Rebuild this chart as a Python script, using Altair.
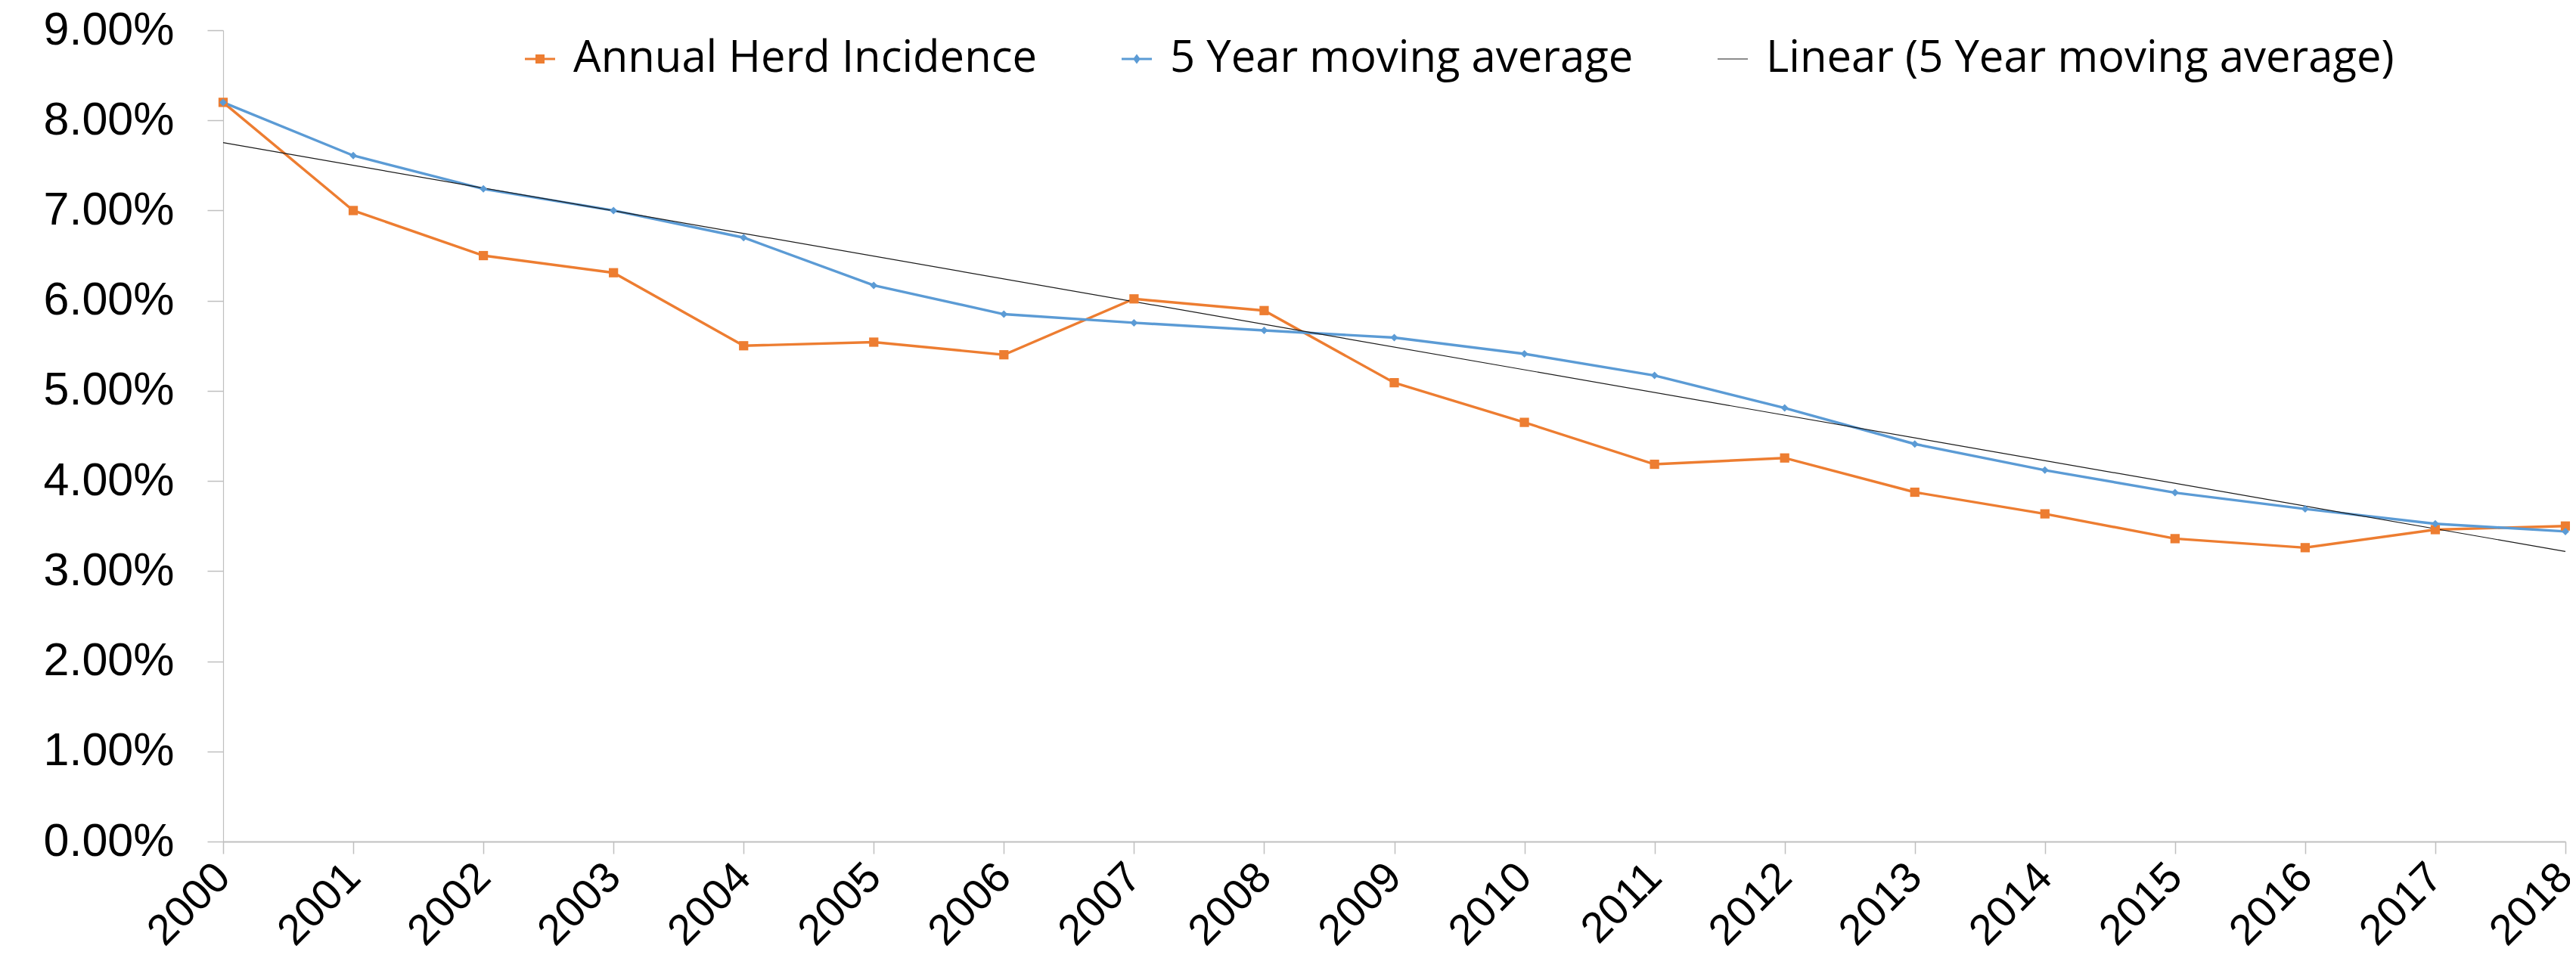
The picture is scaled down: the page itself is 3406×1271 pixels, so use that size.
import altair as alt
import pandas as pd

years = list(range(2000, 2019))
annual_pct = [8.20, 7.00, 6.50, 6.31, 5.50, 5.54, 5.40, 6.02, 5.89, 5.09, 4.65, 4.185,
              4.255, 3.875, 3.635, 3.36, 3.26, 3.46, 3.50]
moving_pct = [8.20, 7.61, 7.24, 7.00, 6.70, 6.17, 5.85, 5.755, 5.67, 5.59, 5.41, 5.17,
              4.81, 4.41, 4.12, 3.87, 3.69, 3.525, 3.44]
series_names = ["Annual Herd Incidence", "5 Year moving average", "Linear (5 Year moving average)"]
series_colors = ["#ED7D31", "#5B9BD5", "#1A1A1A"]
legend_shapes = [
    "M-1,-0.08L1,-0.08L1,0.08L-1,0.08Z M-0.3,-0.3L0.3,-0.3L0.3,0.3L-0.3,0.3Z",
    "M-1,-0.07L1,-0.07L1,0.07L-1,0.07Z M0,-0.32L0.24,0L0,0.32L-0.24,0Z",
    "M-1,-0.03L1,-0.03L1,0.03L-1,0.03Z",
]
y_ticks = [i / 100 for i in range(10)]

rows = []
for yr, a, m in zip(years, annual_pct, moving_pct):
    rows.append({"year": yr, "value": a / 100, "series": series_names[0]})
    rows.append({"year": yr, "value": m / 100, "series": series_names[1]})
df = pd.DataFrame(rows)

AXIS_GRAY = "#BFBFBF"

x_enc = alt.X(
    "year:Q",
    scale=alt.Scale(domain=[2000, 2018], nice=False, zero=False),
    axis=alt.Axis(
        values=years, format="d", labelAngle=315, labelAlign="right", labelBaseline="middle",
        tickSize=16, labelPadding=22, domainColor=AXIS_GRAY, domainWidth=2,
        tickColor=AXIS_GRAY, tickWidth=1.5, grid=False, title=None,
        labelFont="Arial", labelFontSize=57, labelColor="black",
        labelOverlap=False, labelFlush=False,
    ),
)
y_enc = alt.Y(
    "value:Q",
    scale=alt.Scale(domain=[0, 0.09], nice=False),
    axis=alt.Axis(
        values=y_ticks, format=".2%", tickSize=21, labelPadding=44,
        domainColor=AXIS_GRAY, domainWidth=1.2, tickColor=AXIS_GRAY, tickWidth=1.5,
        grid=False, title=None, labelFont="Arial", labelFontSize=61, labelColor="black",
        labelOverlap=False, labelFlush=False,
    ),
)

base = alt.Chart(df).encode(x=x_enc, y=y_enc)

annual = base.transform_filter(alt.datum.series == series_names[0])
moving = base.transform_filter(alt.datum.series == series_names[1])

line_annual = annual.mark_line(color=series_colors[0], strokeWidth=3.4)
line_moving = moving.mark_line(color=series_colors[1], strokeWidth=3.4)
trend = moving.transform_regression("year", "value", extent=[2000, 2018]).mark_line(
    color=series_colors[2], strokeWidth=1.2
)
pts_annual = annual.mark_point(shape="square", filled=True, size=150, opacity=1,
                               color=series_colors[0])
pts_moving = moving.mark_point(shape="diamond", filled=True, size=100, opacity=1,
                               color=series_colors[1])

legend_layer = base.transform_filter("false").mark_point(filled=True, opacity=1).encode(
    color=alt.Color(
        "series:N",
        scale=alt.Scale(domain=series_names, range=series_colors),
        legend=alt.Legend(
            orient="none", legendX=390, legendY=9, direction="horizontal", title=None,
            labelFont="Open Sans", labelFontSize=58, labelColor="black", labelLimit=2000,
            symbolSize=1600, symbolStrokeWidth=0, labelOffset=15, columnPadding=102,
            padding=0,
        ),
    ),
    shape=alt.Shape(
        "series:N",
        scale=alt.Scale(domain=series_names, range=legend_shapes),
    ),
)

chart = alt.layer(
    line_annual, line_moving, trend, pts_annual, pts_moving, legend_layer
).properties(
    width=3097, height=1073,
    padding={"left": 287, "top": 32, "right": 6, "bottom": 150},
    autosize=alt.AutoSizeParams(type="none"),
    background="white",
).configure_view(stroke=None)

chart.save("out.html", embed_options={"renderer": "svg", "actions": False})
